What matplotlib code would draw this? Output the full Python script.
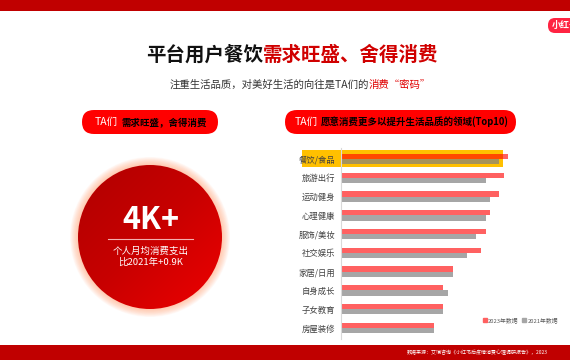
import numpy as np
import matplotlib.pyplot as plt
from matplotlib.patches import Circle, FancyBboxPatch, Rectangle
from matplotlib.lines import Line2D
from matplotlib.colors import LinearSegmentedColormap

plt.rcParams['font.family'] = ['Noto Sans CJK SC', 'DejaVu Sans']

# 数据
categories = ['餐饮/食品', '旅游出行', '运动健身', '心理健康', '服饰/美妆',
              '社交娱乐', '家居/日用', '自身成长', '子女教育', '房屋装修']
v2023 = [33.4, 32.6, 31.6, 29.8, 29.0, 28.0, 22.4, 20.4, 20.4, 18.6]
v2021 = [31.6, 29.0, 29.8, 29.0, 27.0, 25.2, 22.4, 21.4, 20.4, 18.6]
series_names = ['2023年数据', '2021年数据']

RED = '#C00000'
W, H = 570, 360

fig = plt.figure(figsize=(5.7, 3.6), dpi=100)

# 背景装饰层，像素坐标
bg = fig.add_axes([0, 0, 1, 1])
bg.set_xlim(0, W)
bg.set_ylim(H, 0)
bg.axis('off')

bg.add_patch(Rectangle((0, 0), W, 11, color=RED, lw=0))
bg.add_patch(Rectangle((0, 345), W, 15, color=RED, lw=0))
bg.text(407, 352.5, '数据来源：艾瑞咨询《小红书后疫情消费心理调研报告》，2023',
        color='white', fontsize=3.6, va='center', ha='left')

# logo（右侧被裁切）
bg.add_patch(FancyBboxPatch((548, 18), 30, 15, boxstyle='round,pad=0,rounding_size=7',
                            color='#FF2442', lw=0))
bg.text(552, 25.5, '小红书', color='white', fontsize=6.5, fontweight='bold',
        va='center', ha='left')

# 标题
bg.text(263, 55, '平台用户餐饮', fontsize=14, fontweight='bold', color='#111111',
        ha='right', va='center')
bg.text(263, 55, '需求旺盛、舍得消费', fontsize=14, fontweight='bold', color='#D00000',
        ha='left', va='center')
bg.text(369, 85, '注重生活品质，对美好生活的向往是TA们的', fontsize=7.5, color='#333333',
        ha='right', va='center')
bg.text(369, 85, '消费“密码”', fontsize=7.5, color='#E00000', ha='left', va='center')

# 胶囊标题
for x0, x1, tx, body in [(82, 218, 95, '需求旺盛，舍得消费'),
                         (285, 516, 295, '愿意消费更多以提升生活品质的领域(Top10)')]:
    bg.add_patch(FancyBboxPatch((x0, 110), x1 - x0, 24,
                                boxstyle='round,pad=0,rounding_size=12',
                                color='#FF0000', lw=0))
    bg.text(tx, 122, 'TA们', color='white', fontsize=7.5, ha='left', va='center')
    bg.text(tx + 26, 122, body, color='black', fontsize=6.8, fontweight='bold',
            ha='left', va='center')

# 圆形
cx, cy, r = 150, 237, 72
for k in range(12):
    bg.add_patch(Circle((cx, cy), r + 8 - k * 0.7, color='#FFA070', alpha=0.06, lw=0))
gx = np.linspace(0, 1, 200)
GX, GY = np.meshgrid(gx, gx)
grad = (GX + GY) / 2
cmap = LinearSegmentedColormap.from_list('rr', ['#B00000', '#C80000', '#EE0000'])
im = bg.imshow(grad, cmap=cmap, extent=(cx - r, cx + r, cy + r, cy - r), zorder=2)
im.set_clip_path(Circle((cx, cy), r, transform=bg.transData))
bg.text(cx + 1, 220, '4K+', color='white', fontsize=22, fontweight='bold',
        ha='center', va='center', zorder=3)
bg.plot([108, 193], [239, 239], color='#F4B0B0', lw=0.8, zorder=3)
bg.text(cx + 1, 251, '个人月均消费支出', color='white', fontsize=6.8, ha='center',
        va='center', zorder=3)
bg.text(cx + 1, 262, '比2021年+0.9K', color='white', fontsize=6.8, ha='center',
        va='center', zorder=3)

# 条形图
x_axis, x_right = 341, 520
y_top, y_bot = 159, 328
step = (y_bot - y_top) / 9
ax = fig.add_axes([x_axis / W, 1 - (y_bot + 0.6 * step) / H,
                   (x_right - x_axis) / W, (y_bot - y_top + 1.2 * step) / H])
ax.patch.set_alpha(0)
y = np.arange(len(categories))
bh = 0.28
ax.set_xlim(0, (x_right - x_axis) / 5)
ax.set_ylim(len(categories) - 0.4, -0.6)

# 第一项高亮
ax.add_patch(Rectangle((-7.8, -0.5), 40.2, 0.95, color='#FFC000', lw=0,
                       clip_on=False, zorder=0))

ax.barh(y - bh / 2, v2023, height=bh, color='#FF0000', alpha=0.62, lw=0, zorder=2,
        label=series_names[0])
ax.barh(y + bh / 2, v2021, height=bh, color='#808080', alpha=0.7, lw=0, zorder=2,
        label=series_names[1])

ax.set_yticks(y)
ax.set_yticklabels(categories, fontsize=6, color='#404040')
ax.tick_params(length=0, pad=4)
ax.set_xticks([])
for s in ['top', 'right', 'bottom']:
    ax.spines[s].set_visible(False)
ax.spines['left'].set_color('#D9D9D9')
ax.spines['left'].set_linewidth(0.8)

handles = [Line2D([], [], marker='s', ls='', color='#FF6060', markersize=2.5),
           Line2D([], [], marker='s', ls='', color='#A6A6A6', markersize=2.5)]
fig.legend(handles, series_names, loc='center', bbox_to_anchor=(520 / W, 1 - 320 / H),
           ncol=2, frameon=False, fontsize=4.2, handletextpad=0.05, columnspacing=0.4,
           handlelength=1.0, labelcolor='#595959', borderpad=0)

fig.savefig('out.png', dpi=100)
